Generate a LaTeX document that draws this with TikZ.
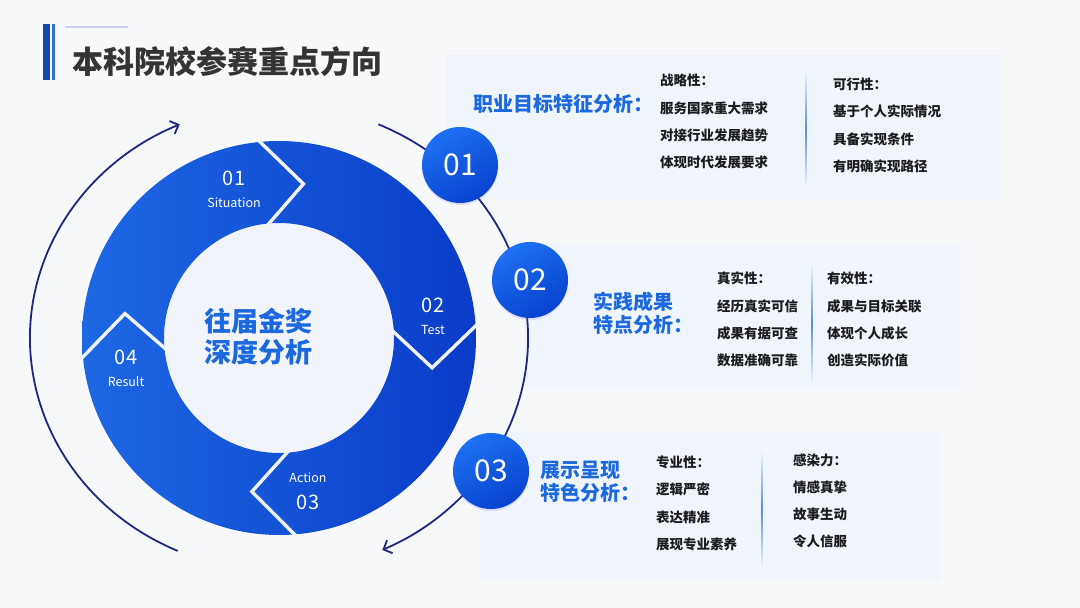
\documentclass[tikz,border=0pt]{standalone}
\usepackage{fontspec}
\setmainfont{Noto Sans CJK SC}
\usepackage{xcolor}
\usetikzlibrary{positioning,arrows.meta,shadows}
\definecolor{bgc}{RGB}{247,248,250}
\definecolor{panelc}{RGB}{240,245,252}
\definecolor{innerc}{RGB}{241,245,251}
\definecolor{ringL}{RGB}{30,104,228}
\definecolor{ringR}{RGB}{10,60,200}
\definecolor{circL}{RGB}{30,112,242}
\definecolor{circR}{RGB}{8,66,206}
\definecolor{arcc}{RGB}{30,40,128}
\definecolor{titleblue}{RGB}{28,104,222}
\definecolor{itemc}{RGB}{28,28,30}
\definecolor{headc}{RGB}{52,52,54}
\definecolor{divc}{RGB}{90,140,215}
\definecolor{barA}{RGB}{22,72,165}
\definecolor{barB}{RGB}{45,115,215}
\definecolor{barline}{RGB}{205,208,232}
\tikzset{
    segnum/.style={text=white, font=\fontsize{20}{22}\selectfont, inner sep=0pt},
    seglbl/.style={text=white, font=\fontsize{12.5}{14}\selectfont, inner sep=0pt},
    numcirc/.style={circle, minimum size=76pt, inner sep=0pt, text=white,
        left color=circL, right color=circR, shading angle=30,
        font=\fontsize{30}{32}\selectfont,
        drop shadow={shadow xshift=0pt, shadow yshift=-2pt, opacity=0.18, fill=blue!60}},
    paneltitle/.style={anchor=west, text=titleblue, align=left, inner sep=0pt,
        font=\bfseries\fontsize{20}{24}\selectfont},
    itemtxt/.style={anchor=west, text=itemc, inner sep=0pt,
        font=\bfseries\fontsize{13.5}{16}\selectfont},
    sepline/.style={draw=innerc, line width=3.4pt, line join=miter},
    cyclearc/.style={draw=arcc, line width=1.8pt, -{Straight Barb[length=7pt,width=14pt,line width=1.8pt]}}
}

\begin{document}
\begin{tikzpicture}[x=1pt, y=1pt]
    \fill[bgc] (0,0) rectangle (1080,608);
    \useasboundingbox (0,0) rectangle (1080,608);

    % heading
    \fill[barA] (43,528) rectangle (50,584);
    \fill[barB] (52,528) rectangle (55,584);
    \draw[barline, line width=2pt] (65,581) -- (128,581);
    \node[anchor=west, inner sep=0pt, text=headc, font=\bfseries\fontsize{31}{34}\selectfont] (head) at (72,546) {本科院校参赛重点方向};

    % panels
    \fill[panelc] (445,553) rectangle (1000,408);
    \fill[panelc] (525,365) rectangle (960,218);
    \fill[panelc] (480,176) rectangle (940,28);
    \shade[top color=panelc, bottom color=panelc, middle color=divc] (805.4,538) rectangle (806.6,420);
    \shade[top color=panelc, bottom color=panelc, middle color=divc] (811.4,345) rectangle (812.6,225);
    \shade[top color=panelc, bottom color=panelc, middle color=divc] (761.4,158) rectangle (762.6,40);

    % cycle arrows
    \coordinate (c) at (279,270);
    \coordinate (lstart) at (177.7,57.1);
    \coordinate (rstart) at (378.3,483.7);
    \draw[cyclearc] (lstart) arc[start angle=246, end angle=113.5, x radius=249, y radius=233];
    \draw[cyclearc] (rstart) arc[start angle=66.5, end angle=-65.5, x radius=249, y radius=233];

    % ring
    \begin{scope}[shift={(c)}]
        \fill[innerc] (0,0) circle (115);
        \path[even odd rule, left color=ringL, right color=ringR] (0,0) circle (197) (0,0) circle (115);
        \foreach \a in {96,4,-85,186}
            \draw[sepline] (\a:199) -- (\a-15:156) -- (\a:113);

        \node[segnum] (n1) at (-45,160) {01};
        \node[seglbl] (s1) at (-45,135) {Situation};
        \node[segnum] (n2) at (154,33) {02};
        \node[seglbl] (s2) at (154,8) {Test};
        \node[seglbl] (s3) at (29,-140) {Action};
        \node[segnum] (n3) at (29,-164) {03};
        \node[segnum] (n4) at (-153,-19) {04};
        \node[seglbl] (s4) at (-153,-44) {Result};

        \node[text=titleblue, align=center, font=\bfseries\fontsize{27}{31}\selectfont] (core) at (-21,1) {往届金奖\\深度分析};
    \end{scope}

    % numbered circles
    \node[numcirc] (c1) at (460,443) {01};
    \node[numcirc] (c2) at (530,328) {02};
    \node[numcirc] (c3) at (491,137) {03};

    % panel 1
    \node[paneltitle] (t1) at (473,504) {职业目标特征分析：};
    \node[itemtxt] (a1) at (660,528) {战略性：};
    \node[itemtxt] (a2) at (660,500) {服务国家重大需求};
    \node[itemtxt] (a3) at (660,473) {对接行业发展趋势};
    \node[itemtxt] (a4) at (660,446) {体现时代发展要求};
    \node[itemtxt] (b1) at (833,524) {可行性：};
    \node[itemtxt] (b2) at (833,497) {基于个人实际情况};
    \node[itemtxt] (b3) at (833,469) {具备实现条件};
    \node[itemtxt] (b4) at (833,442) {有明确实现路径};

    % panel 2
    \node[paneltitle, font=\bfseries\fontsize{20}{23}\selectfont] (t2) at (593,294.5) {实践成果\\特点分析：};
    \node[itemtxt] (d1) at (717,330) {真实性：};
    \node[itemtxt] (d2) at (717,302) {经历真实可信};
    \node[itemtxt] (d3) at (717,275) {成果有据可查};
    \node[itemtxt] (d4) at (717,248) {数据准确可靠};
    \node[itemtxt] (e1) at (827,330) {有效性：};
    \node[itemtxt] (e2) at (827,302) {成果与目标关联};
    \node[itemtxt] (e3) at (827,275) {体现个人成长};
    \node[itemtxt] (e4) at (827,248) {创造实际价值};

    % panel 3
    \node[paneltitle, font=\bfseries\fontsize{20}{23}\selectfont] (t3) at (540,126.5) {展示呈现\\特色分析：};
    \node[itemtxt] (f1) at (656,146) {专业性：};
    \node[itemtxt] (f2) at (656,119) {逻辑严密};
    \node[itemtxt] (f3) at (656,91) {表达精准};
    \node[itemtxt] (f4) at (656,64) {展现专业素养};
    \node[itemtxt] (g1) at (793,148) {感染力：};
    \node[itemtxt] (g2) at (793,121) {情感真挚};
    \node[itemtxt] (g3) at (793,94) {故事生动};
    \node[itemtxt] (g4) at (793,67) {令人信服};
\end{tikzpicture}
\end{document}
